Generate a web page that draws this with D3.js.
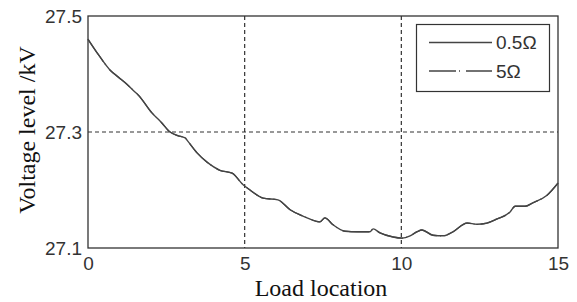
<!DOCTYPE html>
<html>
<head>
<meta charset="utf-8">
<script src="https://cdn.jsdelivr.net/npm/d3@7"></script>
<style>
  html, body { margin: 0; padding: 0; background: #fff; }
  svg { display: block; }
</style>
</head>
<body>
<script>
// ---- data ----
const loadLocation = [0, 0.35, 0.70, 0.96, 1.25, 1.50, 1.60, 2.04, 2.35, 2.62, 2.85, 3.10, 3.16, 3.48, 3.80, 4.21, 4.60, 4.95, 5.17, 5.59, 6.06, 6.45, 6.77, 6.99, 7.40, 7.56, 7.82, 8.20, 8.60, 9.00, 9.10, 9.32, 9.73, 10.02, 10.28, 10.50, 10.66, 11.01, 11.33, 11.65, 12.10, 12.41, 12.73, 13.05, 13.47, 13.63, 13.95, 14.20, 14.65, 15];
const voltage05 = [27.460, 27.432, 27.407, 27.395, 27.382, 27.369, 27.364, 27.333, 27.316, 27.300, 27.294, 27.290, 27.286, 27.264, 27.248, 27.234, 27.229, 27.209, 27.200, 27.186, 27.183, 27.166, 27.157, 27.152, 27.145, 27.152, 27.140, 27.129, 27.128, 27.128, 27.133, 27.126, 27.119, 27.117, 27.121, 27.128, 27.131, 27.122, 27.121, 27.128, 27.143, 27.141, 27.143, 27.150, 27.162, 27.172, 27.172, 27.178, 27.191, 27.212];
// 5 Ω curve coincides with the 0.5 Ω curve in the picture
const voltage5 = [27.460, 27.432, 27.407, 27.395, 27.382, 27.369, 27.364, 27.333, 27.316, 27.300, 27.294, 27.290, 27.286, 27.264, 27.248, 27.234, 27.229, 27.209, 27.200, 27.186, 27.183, 27.166, 27.157, 27.152, 27.145, 27.152, 27.140, 27.129, 27.128, 27.128, 27.133, 27.126, 27.119, 27.117, 27.121, 27.128, 27.131, 27.122, 27.121, 27.128, 27.143, 27.141, 27.143, 27.150, 27.162, 27.172, 27.172, 27.178, 27.191, 27.212];
const seriesNames = ["0.5\u03A9", "5\u03A9"];
const xTicks = [0, 5, 10, 15];
const yTicks = [27.1, 27.3, 27.5];
const xLabel = "Load location";
const yLabel = "Voltage level /kV";

// ---- layout ----
const W = 577, H = 302;
const m = { left: 88, right: 19, top: 16, bottom: 54 };
const iw = W - m.left - m.right, ih = H - m.top - m.bottom;

const svg = d3.select("body").append("svg").attr("width", W).attr("height", H);
const g = svg.append("g").attr("transform", `translate(${m.left},${m.top})`);

const x = d3.scaleLinear().domain([0, 15]).range([0, iw]);
const y = d3.scaleLinear().domain([27.1, 27.5]).range([ih, 0]);

const ink = "#333";
const tickFont = "'Liberation Sans', Arial, sans-serif";

// grid (dashed)
g.append("g").selectAll("line").data(xTicks.filter(t => t > 0 && t < 15)).join("line")
  .attr("x1", d => x(d)).attr("x2", d => x(d)).attr("y1", 0).attr("y2", ih)
  .attr("stroke", ink).attr("stroke-width", 1.2).attr("stroke-dasharray", "4,3");
g.append("g").selectAll("line").data(yTicks.filter(t => t > 27.1 && t < 27.5)).join("line")
  .attr("y1", d => y(d)).attr("y2", d => y(d)).attr("x1", 0).attr("x2", iw)
  .attr("stroke", ink).attr("stroke-width", 1.2).attr("stroke-dasharray", "4,3");

// axes via d3
const xAxis = g.append("g").attr("transform", `translate(0,${ih})`)
  .call(d3.axisBottom(x).tickValues(xTicks).tickFormat(d3.format("d")).tickSize(0).tickPadding(9));
const yAxis = g.append("g")
  .call(d3.axisLeft(y).tickValues(yTicks).tickFormat(d3.format(".1f")).tickSize(0).tickPadding(6));
[xAxis, yAxis].forEach(a => {
  a.select(".domain").remove();
  a.selectAll("text").attr("font-family", tickFont).attr("font-size", 19).attr("fill", ink);
});

// frame
g.append("rect").attr("x", 0).attr("y", 0).attr("width", iw).attr("height", ih)
  .attr("fill", "none").attr("stroke", ink).attr("stroke-width", 1.3);

// lines
const pts05 = loadLocation.map((d, i) => [d, voltage05[i]]);
const pts5 = loadLocation.map((d, i) => [d, voltage5[i]]);
const line = d3.line().x(d => x(d[0])).y(d => y(d[1])).curve(d3.curveMonotoneX);
g.append("path").datum(pts5).attr("d", line).attr("fill", "none")
  .attr("stroke", "#444").attr("stroke-width", 1.3).attr("stroke-dasharray", "27,3,1,6");
g.append("path").datum(pts05).attr("d", line).attr("fill", "none")
  .attr("stroke", "#444").attr("stroke-width", 1.4);

// legend
const lg = svg.append("g");
lg.append("rect").attr("x", 416.5).attr("y", 24.5).attr("width", 133).attr("height", 67)
  .attr("fill", "#fff").attr("stroke", ink).attr("stroke-width", 1.2);
const dashes = [null, "27,3,1,6"];
seriesNames.forEach((nm, i) => {
  const yy = 42.5 + i * 28.5;
  lg.append("line").attr("x1", 429).attr("x2", 492).attr("y1", yy).attr("y2", yy)
    .attr("stroke", "#444").attr("stroke-width", 1.3)
    .attr("stroke-dasharray", dashes[i]);
  lg.append("text").attr("x", 496).attr("y", yy).attr("dy", "0.35em")
    .attr("font-family", tickFont).attr("font-size", 19).attr("fill", ink).text(nm);
});

// axis titles
svg.append("text").attr("x", m.left + iw / 2 - 2).attr("y", 296)
  .attr("text-anchor", "middle").attr("font-family", "'Liberation Serif', 'Times New Roman', serif")
  .attr("font-size", 24).attr("fill", "#111").text(xLabel);
svg.append("text").attr("transform", `translate(35,130) rotate(-90)`)
  .attr("text-anchor", "middle").attr("font-family", "'Liberation Serif', 'Times New Roman', serif")
  .attr("font-size", 24).attr("fill", "#111").text(yLabel);
</script>
</body>
</html>
